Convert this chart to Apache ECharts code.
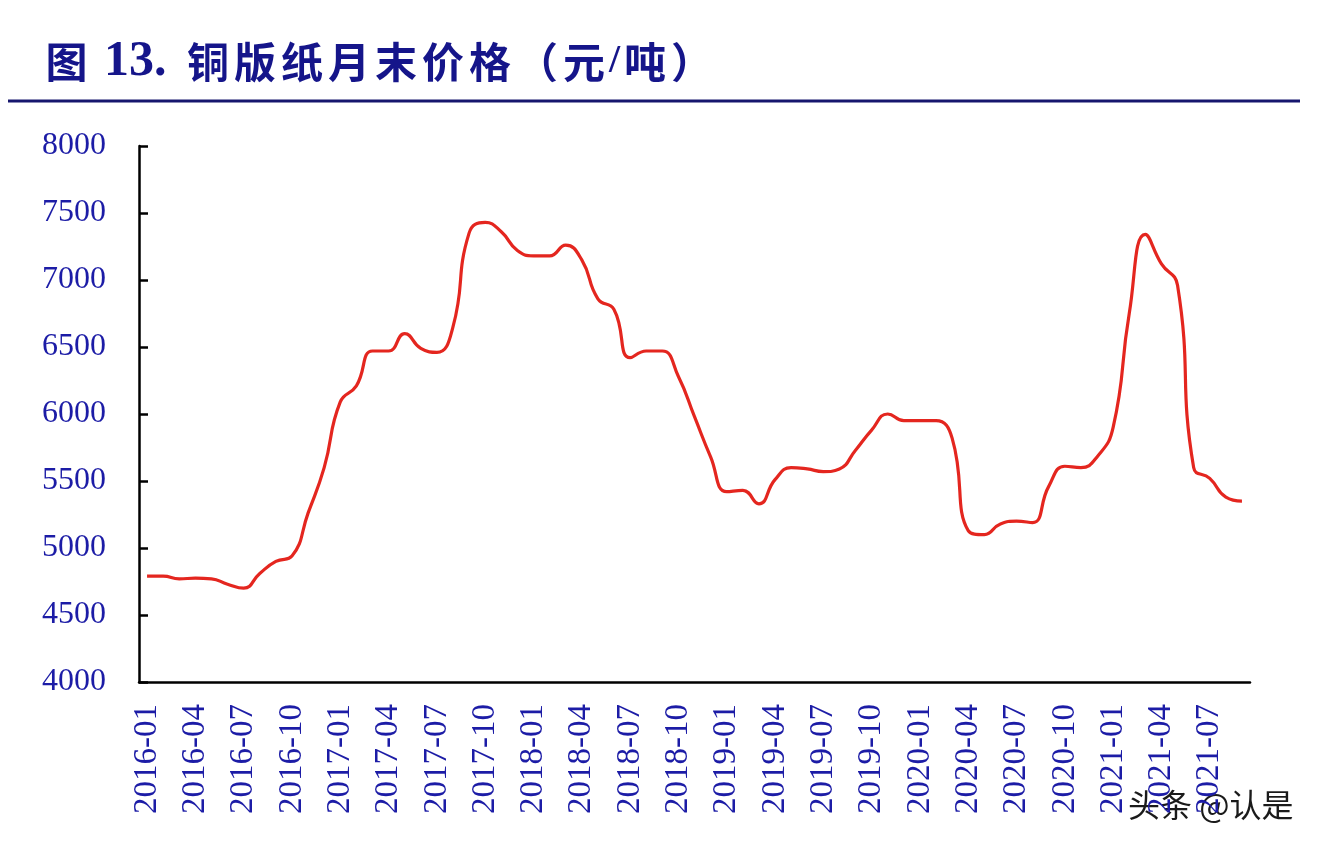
<!DOCTYPE html>
<html>
<head>
<meta charset="utf-8">
<script src="https://cdn.jsdelivr.net/npm/echarts@6/dist/echarts.min.js"></script>
<style>
html,body{margin:0;padding:0;background:#ffffff;}
#chart{width:1326px;height:850px;}
</style>
</head>
<body>
<div id="chart"></div>
<script>
var titleText = '图 13. 铜版纸月末价格（元/吨）';
var watermark = '头条 @认是';

var months = [
  '2016-01','2016-02','2016-03','2016-04','2016-05','2016-06','2016-07','2016-08','2016-09','2016-10','2016-11','2016-12',
  '2017-01','2017-02','2017-03','2017-04','2017-05','2017-06','2017-07','2017-08','2017-09','2017-10','2017-11','2017-12',
  '2018-01','2018-02','2018-03','2018-04','2018-05','2018-06','2018-07','2018-08','2018-09','2018-10','2018-11','2018-12',
  '2019-01','2019-02','2019-03','2019-04','2019-05','2019-06','2019-07','2019-08','2019-09','2019-10','2019-11','2019-12',
  '2020-01','2020-02','2020-03','2020-04','2020-05','2020-06','2020-07','2020-08','2020-09','2020-10','2020-11','2020-12',
  '2021-01','2021-02','2021-03','2021-04','2021-05','2021-06','2021-07','2021-08','2021-09'
];

var prices = [
  4790, 4790, 4770, 4775, 4770, 4730, 4700, 4810, 4900, 4940, 5260, 5600,
  6090, 6210, 6470, 6470, 6600, 6490, 6460, 6650, 7350, 7430, 7360, 7220,
  7180, 7180, 7260, 7150, 6860, 6780, 6420, 6470, 6470, 6280, 5980, 5680,
  5420, 5430, 5330, 5510, 5600, 5590, 5570, 5590, 5730, 5880, 6000, 5950,
  5950, 5950, 5820, 5130, 5100, 5180, 5200, 5190, 5460, 5610, 5600, 5680,
  5900, 6750, 7340, 7120, 6960, 5600, 5520, 5380, 5350
];

var yMin = 4000, yMax = 8000, yStep = 500;

// build a spaced-out rich-text title from the title string
function richTitle(str) {
  var out = '';
  var spaceCount = 0;
  for (var k = 0; k < str.length; k++) {
    var ch = str[k];
    if (ch === ' ') {
      spaceCount++;
      out += '{' + (spaceCount === 1 ? 's1' : 's2') + '| }';
    } else if (/[0-9.]/.test(ch)) {
      out += '{n|' + ch + '}';
    } else if (ch === '/') {
      out += '{sl|' + ch + '}';
    } else {
      out += '{c|' + ch + '}';
    }
  }
  return out;
}

var titleColor = '#15158a';
var cjkFont = '"Noto Sans CJK SC", sans-serif';
var serif = '"Liberation Serif", "Times New Roman", serif';
var labelColor = '#1c1ca6';

var chart = echarts.init(document.getElementById('chart'));

chart.setOption({
  backgroundColor: '#ffffff',
  animation: false,
  title: {
    text: richTitle(titleText),
    left: 38,
    top: 32,
    textStyle: {
      color: titleColor,
      fontSize: 42,
      fontWeight: 'bold',
      lineHeight: 50,
      rich: {
        c: { width: 47, align: 'center', fontSize: 42, fontWeight: 'bold', color: titleColor, fontFamily: cjkFont, lineHeight: 50 },
        n: { fontSize: 50, fontWeight: 'bold', color: titleColor, fontFamily: serif, lineHeight: 50 },
        sl: { fontSize: 40, fontWeight: 'bold', color: titleColor, fontFamily: serif, lineHeight: 50, width: 14, align: 'center' },
        s1: { width: 14, fontSize: 42, lineHeight: 50 },
        s2: { width: 18, fontSize: 42, lineHeight: 50 }
      }
    }
  },
  graphic: [
    {
      type: 'line',
      shape: { x1: 8, y1: 101, x2: 1300, y2: 101 },
      style: { stroke: '#16166e', lineWidth: 3 }
    },
    {
      type: 'text',
      left: 1128,
      top: 789,
      style: {
        text: watermark,
        fill: '#1a1a1a',
        fontSize: 32,
        fontFamily: cjkFont,
        textShadowColor: 'rgba(255,255,255,0.9)',
        textShadowBlur: 2,
        textShadowOffsetX: 1,
        textShadowOffsetY: 1
      }
    }
  ],
  grid: {
    left: 139,
    right: 76,
    top: 146,
    bottom: 168,
    containLabel: false
  },
  xAxis: {
    type: 'category',
    data: months,
    boundaryGap: true,
    axisLine: { lineStyle: { color: '#000', width: 2.5 } },
    axisTick: { inside: true, length: 9, interval: 2, lineStyle: { color: '#000', width: 2.5 } },
    axisLabel: {
      interval: 2,
      rotate: 90,
      margin: 22,
      color: labelColor,
      fontSize: 33,
      fontFamily: serif
    },
    splitLine: { show: false }
  },
  yAxis: {
    type: 'value',
    min: yMin,
    max: yMax,
    interval: yStep,
    axisLine: { show: true, lineStyle: { color: '#000', width: 2.5 } },
    axisTick: { show: true, inside: true, length: 9, lineStyle: { color: '#000', width: 2.5 } },
    axisLabel: {
      margin: 33,
      color: labelColor,
      fontSize: 32,
      fontFamily: serif,
      formatter: function (v) { return String(v); }
    },
    splitLine: { show: false }
  },
  series: [{
    type: 'line',
    data: prices,
    smooth: 0.5,
    symbol: 'none',
    lineStyle: { color: '#e4261f', width: 3.2 }
  }]
});
</script>
</body>
</html>
